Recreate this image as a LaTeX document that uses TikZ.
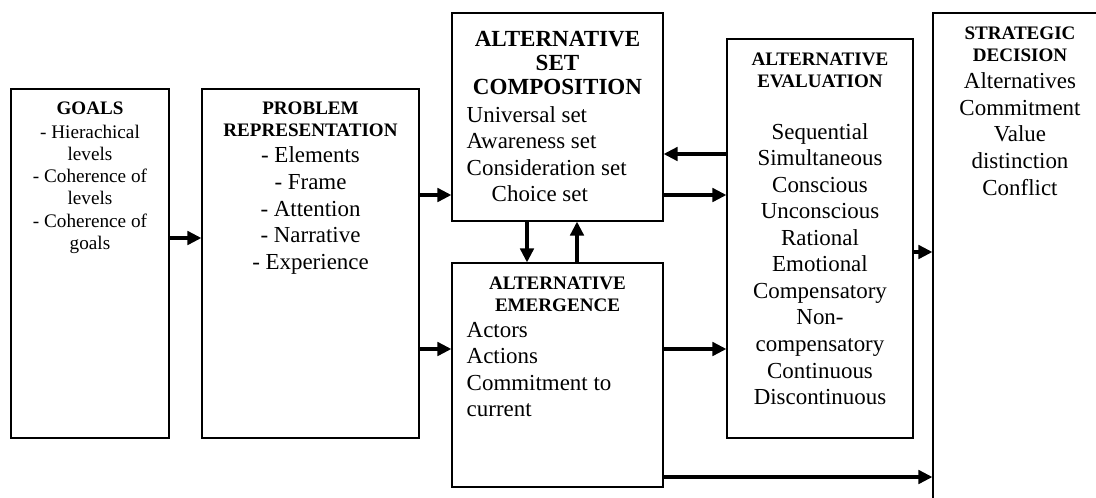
\documentclass[tikz,border=0pt]{standalone}
\usepackage{fontspec}
\setmainfont{Liberation Serif}
\usetikzlibrary{positioning,arrows.meta}
\tikzset{
  panel/.style={draw, line width=0.8pt, inner sep=0pt},
  heading/.style={font=\fontsize{14.3}{16.5}\selectfont\bfseries, align=center, inner sep=0pt},
  bigheading/.style={font=\fontsize{17.3}{18}\selectfont\bfseries, align=center, inner sep=0pt},
  items/.style={font=\fontsize{17.2}{19.9}\selectfont, align=center, inner sep=0pt},
  smallitems/.style={font=\fontsize{14.4}{16.7}\selectfont, align=center, inner sep=0pt},
  link/.style={line width=3pt, -{Triangle[length=10.5pt,width=10pt]}},
}

\begin{document}
\begin{tikzpicture}[x=0.75pt, y=-0.75pt]
  \useasboundingbox (0,0) rectangle (1096,497);
  \clip (0,0) rectangle (1096,497);

  % boxes
  \node[panel, minimum width=118.5pt, minimum height=261.75pt] (goals) at (90,263.5) {};
  \node[panel, minimum width=162.75pt, minimum height=261.75pt] (prob) at (310.5,263.5) {};
  \node[panel, minimum width=158.25pt, minimum height=156pt] (altset) at (557.5,117) {};
  \node[panel, minimum width=158.25pt, minimum height=168pt] (emerg) at (557.5,375) {};
  \node[panel, minimum width=139.5pt, minimum height=299.25pt] (eval) at (820,238.5) {};
  \node[panel, minimum width=130.5pt, minimum height=410.25pt] (strat) at (1020,286.5) {};

  % texts
  \node[heading, below=9.75pt of goals.north] (goalsH) {GOALS};
  \node[smallitems, below=7.2pt of goalsH] (goalsT) {- Hierachical\\levels\\- Coherence of\\levels\\- Coherence of\\goals};

  \node[heading, below=9.75pt of prob.north] (probH) {PROBLEM\\REPRESENTATION};
  \node[items, below=7.5pt of probH] (probT) {- Elements\\- Frame\\- Attention\\- Narrative\\- Experience};

  \node[bigheading, below=14pt of altset.north] (altsetH) {ALTERNATIVE\\SET\\COMPOSITION};
  \path (altset.west |- altsetH.south) ++(11.25pt,-8.1pt)
    node[items, align=left, anchor=north west] (altsetT) {Universal set\\Awareness set\\Consideration set\\\hspace*{18.75pt}Choice set};

  \node[heading, below=10.5pt of emerg.north] (emergH) {ALTERNATIVE\\EMERGENCE};
  \path (emerg.west |- emergH.south) ++(11.25pt,-7.5pt)
    node[items, align=left, anchor=north west] (emergT) {Actors\\Actions\\Commitment to\\current};

  \node[heading, below=10.7pt of eval.north] (evalH) {ALTERNATIVE\\EVALUATION};
  \node[items, below=26.2pt of evalH] (evalT) {Sequential\\Simultaneous\\Conscious\\Unconscious\\Rational\\Emotional\\Compensatory\\Non-\\compensatory\\Continuous\\Discontinuous};

  \node[heading, below=10.3pt of strat.north] (stratH) {STRATEGIC\\DECISION};
  \node[items, below=8.4pt of stratH] (stratT) {Alternatives\\Commitment\\Value\\distinction\\Conflict};

  % rows and columns of the arrows
  \coordinate (rowBack) at (0,154);
  \coordinate (rowSet) at (0,195);
  \coordinate (rowGoals) at (0,238);
  \coordinate (rowEval) at (0,252);
  \coordinate (rowEmerg) at (0,349);
  \coordinate (rowLow) at (0,477);
  \coordinate (colDown) at (527,0);
  \coordinate (colUp) at (577,0);

  % arrows
  \draw[link] (goals.east |- rowGoals) -- (prob.west |- rowGoals);
  \draw[link] (prob.east |- rowSet) -- (altset.west |- rowSet);
  \draw[link] (prob.east |- rowEmerg) -- (emerg.west |- rowEmerg);
  \draw[link] (altset.east |- rowSet) -- (eval.west |- rowSet);
  \draw[link] (eval.west |- rowBack) -- (altset.east |- rowBack);
  \draw[link] (altset.south -| colDown) -- (emerg.north -| colDown);
  \draw[link] (emerg.north -| colUp) -- (altset.south -| colUp);
  \draw[link] (emerg.east |- rowEmerg) -- (eval.west |- rowEmerg);
  \draw[link] (eval.east |- rowEval) -- (strat.west |- rowEval);
  \draw[link] (emerg.east |- rowLow) -- (strat.west |- rowLow);
\end{tikzpicture}
\end{document}
